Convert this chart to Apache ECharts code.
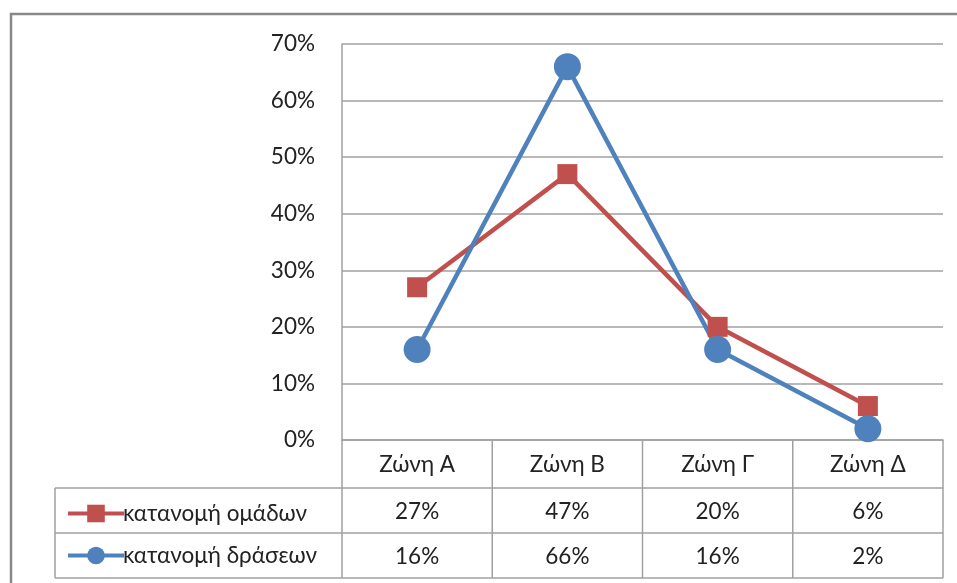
<!DOCTYPE html>
<html><head><meta charset="utf-8">
<script src="https://cdn.jsdelivr.net/npm/echarts@6/dist/echarts.min.js"></script>
<style>html,body{margin:0;padding:0;background:#fff}#c{width:957px;height:583px}</style>
</head><body><div id="c"></div>
<script>
const categories = ['Ζώνη Α', 'Ζώνη Β', 'Ζώνη Γ', 'Ζώνη Δ'];
const seriesNames = ['κατανομή ομάδων', 'κατανομή δράσεων'];
const groupsPct = [27, 47, 20, 6];
const actionsPct = [16, 66, 16, 2];
const yMin = 0, yMax = 70, yStep = 10;

const FONT = 'Lato, "Open Sans", sans-serif';
const FS = 22.5;
const GRID = '#a0a0a0';
const RED = '#C0504D', BLUE = '#4F81BD';

const chart = echarts.init(document.getElementById('c'), null, {renderer: 'canvas'});
chart.setOption({
  animation: false,
  backgroundColor: '#fff',
  grid: {left: 342, right: 14, top: 44, bottom: 143, containLabel: false},
  xAxis: {
    type: 'category', data: categories, boundaryGap: true,
    axisLine: {show: true, lineStyle: {color: GRID, width: 1.5}},
    axisTick: {show: false},
    axisLabel: {show: true, margin: 13, fontFamily: FONT, fontSize: FS, color: '#222'}
  },
  yAxis: {
    type: 'value', min: yMin, max: yMax, interval: yStep,
    axisLine: {show: true, lineStyle: {color: GRID, width: 1.5}},
    axisTick: {show: false},
    axisLabel: {formatter: '{value}%', margin: 27, fontFamily: FONT, fontSize: FS, color: '#222'},
    splitLine: {show: true, lineStyle: {color: GRID, width: 1.5}}
  },
  legend: {
    orient: 'vertical', left: 61, top: 497, itemGap: 19, itemWidth: 56, itemHeight: 22,
    lineStyle: {width: 4},
    textStyle: {fontFamily: FONT, fontSize: FS, color: '#222', padding: [0, 0, 0, -6]},
    data: seriesNames
  },
  series: [
    {name: seriesNames[0], type: 'line', data: groupsPct, symbol: 'rect', symbolSize: 20,
     lineStyle: {color: RED, width: 4.5}, itemStyle: {color: RED}},
    {name: seriesNames[1], type: 'line', data: actionsPct, symbol: 'circle', symbolSize: 27,
     lineStyle: {color: BLUE, width: 4.5}, itemStyle: {color: BLUE}}
  ]
});

// data table below the axis, positioned from the axis scales
const cx = categories.map(c => chart.convertToPixel({xAxisIndex: 0}, c));
const bw = cx[1] - cx[0];
const leftX = cx[0] - bw / 2, rightX = cx[cx.length - 1] + bw / 2;
const y0 = chart.convertToPixel({yAxisIndex: 0}, yMin);
const rowTops = [y0, y0 + 48, y0 + 93, y0 + 138];
const tableLeft = 55;
const g = [];
const line = (x1, y1, x2, y2) => g.push({type: 'line', shape: {x1, y1, x2, y2}, style: {stroke: GRID, lineWidth: 1.5}, silent: true});
// outer frame
g.push({type: 'rect', shape: {x: 11, y: 14, width: 980, height: 600}, style: {fill: null, stroke: '#888', lineWidth: 2.5}, silent: true});
for (let i = 1; i < rowTops.length; i++) line(tableLeft, rowTops[i], rightX, rowTops[i]);
line(tableLeft, rowTops[1], tableLeft, rowTops[3]);
for (let i = 0; i <= categories.length; i++) {
  const x = leftX + i * bw;
  line(x, rowTops[0], x, rowTops[3]);
}
[groupsPct, actionsPct].forEach((vals, r) => {
  vals.forEach((v, i) => {
    g.push({type: 'text', x: cx[i], y: (rowTops[r + 1] + rowTops[r + 2]) / 2 + 1,
      style: {text: v + '%', fontFamily: FONT, fontSize: FS, fill: '#222', align: 'center', verticalAlign: 'middle'}, silent: true});
  });
});
chart.setOption({graphic: g});
</script>
</body></html>
